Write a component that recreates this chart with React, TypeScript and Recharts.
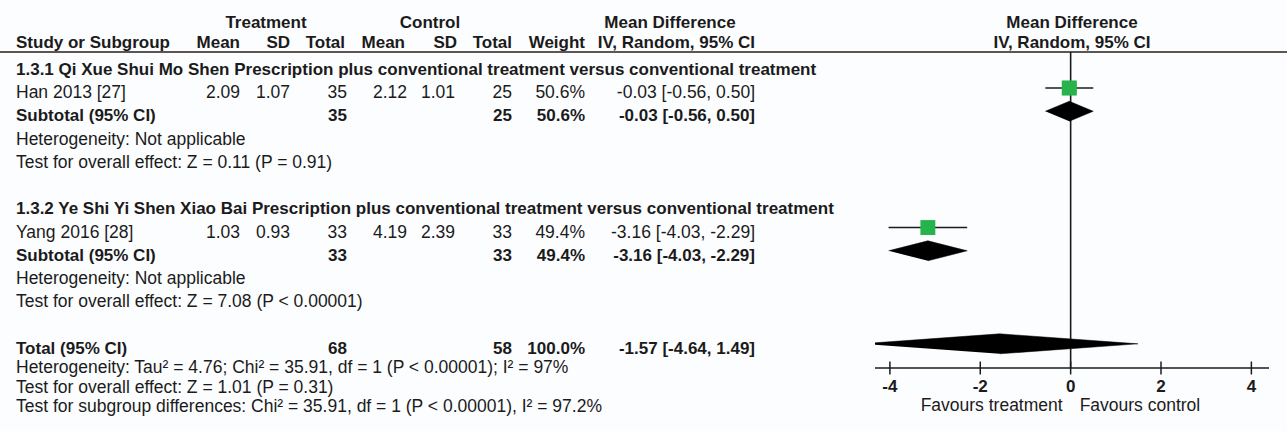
import React from 'react';
import { ComposedChart, XAxis, YAxis, Scatter, ReferenceLine } from 'recharts';

// Forest plot: mean difference (IV, random effects, 95% CI)
const subgroupTitles = [
  '1.3.1 Qi Xue Shui Mo Shen Prescription plus conventional treatment versus conventional treatment',
  '1.3.2 Ye Shi Yi Shen Xiao Bai Prescription plus conventional treatment versus conventional treatment',
];
const studyNames = ['Han 2013 [27]', 'Yang 2016 [28]'];
const treatmentMean = [2.09, 1.03];
const treatmentSD = [1.07, 0.93];
const treatmentTotal = [35, 33];
const controlMean = [2.12, 4.19];
const controlSD = [1.01, 2.39];
const controlTotal = [25, 33];
const weights = [50.6, 49.4];
const meanDiff = [-0.03, -3.16];
const ciLower = [-0.56, -4.03];
const ciUpper = [0.5, -2.29];
const overallEffect = ['Z = 0.11 (P = 0.91)', 'Z = 7.08 (P < 0.00001)'];

const totalTreatment = 68;
const totalControl = 58;
const totalWeight = 100.0;
const totalDiff = -1.57;
const totalLower = -4.64;
const totalUpper = 1.49;
const totalNotes = [
  'Heterogeneity: Tau\u00b2 = 4.76; Chi\u00b2 = 35.91, df = 1 (P < 0.00001); I\u00b2 = 97%',
  'Test for overall effect: Z = 1.01 (P = 0.31)',
  'Test for subgroup differences: Chi\u00b2 = 35.91, df = 1 (P < 0.00001), I\u00b2 = 97.2%',
];

const xTicks = [-4, -2, 0, 2, 4];

const FONT = "'Liberation Sans', Arial, sans-serif";
const INK = '#1b1b1b';
const FS = 17.5;
const FS_BOLD = 17;
const ROWS_PER_GROUP = 6;
const TOTAL_ROW = 12;
const HEADER_ROW = -1;
const DIAMOND_HALF = 0.43;

// table column anchors (right edges for numbers)
const col = {
  study: 16,
  tMean: 240,
  tSD: 290,
  tN: 347,
  cMean: 407,
  cSD: 455,
  cN: 512,
  weight: 585,
  ci: 755,
};

type Row = { row: number; kind: 'title' | 'study' | 'subtotal' | 'note' | 'total'; i?: number; text?: string };

const rows: Row[] = [];
subgroupTitles.forEach((title, g) => {
  const base = g * ROWS_PER_GROUP;
  rows.push({ row: base, kind: 'title', text: title });
  rows.push({ row: base + 1, kind: 'study', i: g });
  rows.push({ row: base + 2, kind: 'subtotal', i: g });
  rows.push({ row: base + 3, kind: 'note', text: 'Heterogeneity: Not applicable' });
  rows.push({ row: base + 4, kind: 'note', text: 'Test for overall effect: ' + overallEffect[g] });
});
rows.push({ row: TOTAL_ROW, kind: 'total' });

const fmtCI = (m: number, lo: number, hi: number) =>
  `${m.toFixed(2)} [${lo.toFixed(2)}, ${hi.toFixed(2)}]`;

const squares = studyNames.map((_, i) => ({
  x: meanDiff[i],
  y: i * ROWS_PER_GROUP + 1,
  w: weights[i],
}));

const ciSegments = studyNames.map((_, i) => [
  { x: ciLower[i], y: i * ROWS_PER_GROUP + 1 },
  { x: ciUpper[i], y: i * ROWS_PER_GROUP + 1 },
]);

const diamond = (m: number, lo: number, hi: number, r: number) => [
  { x: lo, y: r },
  { x: m, y: r - DIAMOND_HALF },
  { x: hi, y: r },
  { x: m, y: r + DIAMOND_HALF },
];

const diamonds = [
  ...studyNames.map((_, i) => diamond(meanDiff[i], ciLower[i], ciUpper[i], i * ROWS_PER_GROUP + 2)),
  diamond(totalDiff, totalLower, totalUpper, TOTAL_ROW),
];

const T = (props: any) => (
  <text fontFamily={FONT} fontSize={FS} fill={INK} {...props} />
);
const B = (props: any) => <T fontWeight="bold" fontSize={FS_BOLD} {...props} />;

function HeaderRows({ y }: { y: number }) {
  const b1 = y - 13.5;
  const b2 = y + 7;
  return (
    <g>
      <B x={266} y={b1} textAnchor="middle">Treatment</B>
      <B x={430} y={b1} textAnchor="middle">Control</B>
      <B x={670} y={b1} textAnchor="middle">Mean Difference</B>
      <B x={1072} y={b1} textAnchor="middle">Mean Difference</B>
      <B x={col.study} y={b2}>Study or Subgroup</B>
      <B x={col.tMean} y={b2} textAnchor="end">Mean</B>
      <B x={col.tSD} y={b2} textAnchor="end">SD</B>
      <B x={345} y={b2} textAnchor="end">Total</B>
      <B x={405} y={b2} textAnchor="end">Mean</B>
      <B x={457} y={b2} textAnchor="end">SD</B>
      <B x={col.cN} y={b2} textAnchor="end">Total</B>
      <B x={col.weight} y={b2} textAnchor="end">Weight</B>
      <B x={col.ci} y={b2} textAnchor="end">IV, Random, 95% CI</B>
      <B x={1072} y={b2} textAnchor="middle">IV, Random, 95% CI</B>
      <line x1={0} x2={1287} y1={y + 10.5} y2={y + 10.5} stroke="#2a1c16" strokeWidth={1.6} />
    </g>
  );
}

// each y tick draws one line of the study table
function RowTick(props: any) {
  const { y, payload } = props;
  const v = payload.value;
  if (v === HEADER_ROW) return <HeaderRows y={y} />;
  const r = rows.find((d) => d.row === v);
  if (!r) return null;
  const b = y + 10;
  if (r.kind === 'title') return <B x={col.study} y={b}>{r.text}</B>;
  if (r.kind === 'note') return <T x={col.study} y={b}>{r.text}</T>;
  if (r.kind === 'study') {
    const i = r.i as number;
    return (
      <g>
        <T x={col.study} y={b}>{studyNames[i]}</T>
        <T x={col.tMean} y={b} textAnchor="end">{treatmentMean[i].toFixed(2)}</T>
        <T x={col.tSD} y={b} textAnchor="end">{treatmentSD[i].toFixed(2)}</T>
        <T x={col.tN} y={b} textAnchor="end">{treatmentTotal[i]}</T>
        <T x={col.cMean} y={b} textAnchor="end">{controlMean[i].toFixed(2)}</T>
        <T x={col.cSD} y={b} textAnchor="end">{controlSD[i].toFixed(2)}</T>
        <T x={col.cN} y={b} textAnchor="end">{controlTotal[i]}</T>
        <T x={col.weight} y={b} textAnchor="end">{weights[i].toFixed(1)}%</T>
        <T x={col.ci} y={b} textAnchor="end">{fmtCI(meanDiff[i], ciLower[i], ciUpper[i])}</T>
      </g>
    );
  }
  if (r.kind === 'subtotal') {
    const i = r.i as number;
    return (
      <g>
        <B x={col.study} y={b}>Subtotal (95% CI)</B>
        <B x={col.tN} y={b} textAnchor="end">{treatmentTotal[i]}</B>
        <B x={col.cN} y={b} textAnchor="end">{controlTotal[i]}</B>
        <B x={col.weight} y={b} textAnchor="end">{weights[i].toFixed(1)}%</B>
        <B x={col.ci} y={b} textAnchor="end">{fmtCI(meanDiff[i], ciLower[i], ciUpper[i])}</B>
      </g>
    );
  }
  return (
    <g>
      <B x={col.study} y={b}>Total (95% CI)</B>
      <B x={col.tN} y={b} textAnchor="end">{totalTreatment}</B>
      <B x={col.cN} y={b} textAnchor="end">{totalControl}</B>
      <B x={col.weight} y={b} textAnchor="end">{totalWeight.toFixed(1)}%</B>
      <B x={col.ci} y={b} textAnchor="end">{fmtCI(totalDiff, totalLower, totalUpper)}</B>
      {totalNotes.map((t, k) => (
        <T key={k} x={col.study} y={b + 19 + k * 19.7}>{t}</T>
      ))}
    </g>
  );
}

function AxisTick(props: any) {
  const { x, y, payload } = props;
  return (
    <g>
      <line x1={x} x2={x} y1={y - 6.5} y2={y + 6.5} stroke={INK} strokeWidth={1.5} />
      <B x={x} y={y + 24} textAnchor="middle">{String(payload.value)}</B>
      {payload.value === 0 && (
        <>
          <T x={x - 8} y={y + 43} textAnchor="end">Favours treatment</T>
          <T x={x + 9} y={y + 43}>Favours control</T>
        </>
      )}
    </g>
  );
}

const Square = (props: any) => {
  const { cx, cy, payload } = props;
  const s = 15 * Math.sqrt(payload.w / 50);
  return <rect x={cx - s / 2} y={cy - s / 2} width={s} height={s} fill="#27b34b" />;
};

const Nothing = () => <g />;

export default function App() {
  const yTicks = [HEADER_ROW, ...rows.map((r) => r.row)];
  return (
    <div style={{ position: 'absolute', left: 0, top: 0, background: '#fcfdff' }}>
      <ComposedChart
        width={1287}
        height={431}
        margin={{ top: 52, right: 18, bottom: 0, left: 874 }}
      >
        <XAxis
          dataKey="x"
          type="number"
          domain={[-4.33, 4.39]}
          allowDataOverflow
          ticks={xTicks}
          interval={0}
          height={63}
          tickSize={0}
          tickMargin={0}
          tickLine={false}
          axisLine={{ stroke: INK, strokeWidth: 1.5 }}
          tick={<AxisTick />}
        />
        <YAxis
          dataKey="y"
          type="number"
          domain={[-0.548, 13.04]}
          reversed
          allowDataOverflow
          width={1}
          ticks={yTicks}
          interval={0}
          axisLine={false}
          tickLine={false}
          tick={<RowTick />}
        />
        <ReferenceLine x={0} stroke={INK} strokeWidth={1.6} />
        {ciSegments.map((seg, i) => (
          <Scatter
            key={`ci-${i}`}
            data={seg}
            line={{ stroke: INK, strokeWidth: 1.6 }}
            lineType="joint"
            shape={<Nothing />}
            isAnimationActive={false}
          />
        ))}
        {diamonds.map((d, i) => (
          <Scatter
            key={`dm-${i}`}
            data={d}
            line={{ stroke: '#000', strokeWidth: 0.5, fill: '#000' }}
            lineType="joint"
            shape={<Nothing />}
            isAnimationActive={false}
          />
        ))}
        <Scatter data={squares} shape={<Square />} isAnimationActive={false} />
      </ComposedChart>
    </div>
  );
}
